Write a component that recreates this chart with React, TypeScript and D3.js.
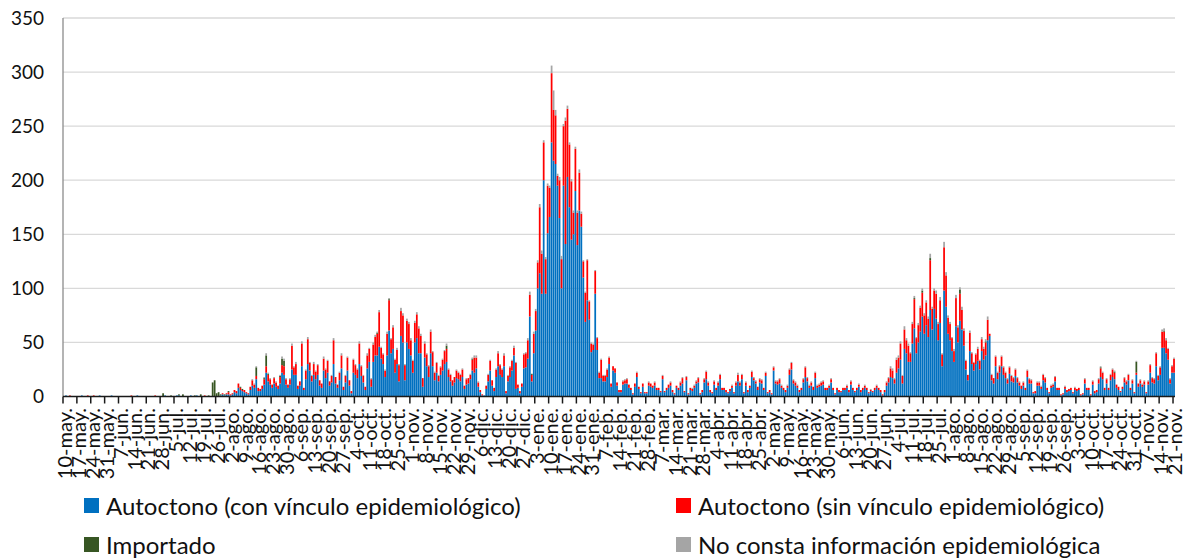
import React, { useRef, useEffect } from 'react';
import * as d3 from 'd3';

// weekly tick labels (first day of each week)
const xLabels = [
  '10-may.', '17-may.', '24-may.', '31-may.', '7-jun.', '14-jun.', '21-jun.', '28-jun.',
  '5-jul.', '12-jul.', '19-jul.', '26-jul.', '2-ago.', '9-ago.', '16-ago.', '23-ago.', '30-ago.',
  '6-sep.', '13-sep.', '20-sep.', '27-sep.', '4-oct.', '11-oct.', '18-oct.', '25-oct.',
  '1-nov.', '8-nov.', '15-nov.', '22-nov.', '29-nov.', '6-dic.', '13-dic.', '20-dic.', '27-dic.',
  '3-ene.', '10-ene.', '17-ene.', '24-ene.', '31-ene.', '7-feb.', '14-feb.', '21-feb.', '28-feb.',
  '7-mar.', '14-mar.', '21-mar.', '28-mar.', '4-abr.', '11-abr.', '18-abr.', '25-abr.',
  '2-may.', '9-may.', '16-may.', '23-may.', '30-may.', '6-jun.', '13-jun.', '20-jun.', '27-jun.',
  '4-jul.', '11-jul.', '18-jul.', '25-jul.', '1-ago.', '8-ago.', '15-ago.', '22-ago.', '29-ago.',
  '5-sep.', '12-sep.', '19-sep.', '26-sep.', '3-oct.', '10-oct.', '17-oct.', '24-oct.', '31-oct.',
  '7-nov.', '14-nov.', '21-nov.'
];

const yTicks = [0, 50, 100, 150, 200, 250, 300, 350];

// daily cases, one row per week (Sun..Sat)
const autoctonoCon = [
  0,1,0,0,0,0,0, 0,0,1,0,0,0,0, 0,0,0,0,1,0,0, 0,0,0,1,0,0,0,
  0,0,0,0,0,0,0, 0,0,1,0,0,0,0, 0,0,0,0,0,0,0, 0,0,1,0,0,0,0,
  0,1,1,0,0,0,0, 0,1,0,0,1,0,0, 0,0,0,0,0,0,0, 0,0,1,2,1,2,2,
  1,2,4,3,8,6,5, 4,3,2,6,10,8,16, 5,5,7,11,22,14,11, 8,12,9,7,12,22,20,
  11,8,11,25,20,20,7, 10,28,6,16,30,24,14, 20,16,20,10,8,24,17, 22,10,13,30,12,8,15,
  26,6,13,24,10,3,22, 20,17,30,19,13,6,26, 32,9,32,38,38,46,35, 30,18,38,61,40,44,22,
  30,14,56,50,15,50,44, 38,22,50,54,40,40,9, 36,28,18,40,28,15,22, 14,20,24,30,32,18,14,
  10,13,17,16,14,18,7, 11,12,16,24,22,26,9, 4,1,1,7,14,24,10, 5,18,28,20,18,28,3,
  14,18,24,38,7,8,3, 9,26,27,35,74,14,40,
  61,100,114,95,200,95,151,
  166,235,218,215,195,165,100,
  195,141,203,175,145,150,190,
  140,172,157,110,69,89,71,
  41,43,95,43,17,17,14, 14,18,30,9,24,22,10, 4,4,11,12,12,8,6, 2,9,18,7,3,9,3,
  3,10,9,8,10,6,6, 4,16,4,6,8,10,4, 2,8,6,10,12,4,15, 2,6,5,8,12,13,2,
  4,13,16,10,4,3,11, 6,10,16,6,6,4,3, 5,8,3,10,14,10,16, 3,10,4,8,18,15,12,
  6,13,12,6,19,3,4, 2,24,12,11,12,8,6, 4,8,20,25,12,10,8, 4,6,13,18,14,8,10,
  6,17,8,9,10,11,6, 6,8,13,6,2,6,4, 4,6,6,8,4,11,6, 4,6,9,4,6,8,6,
  3,5,4,6,8,6,4, 1,4,10,13,18,17,12, 22,26,34,12,44,40,32, 32,49,63,40,50,60,74,
  58,66,55,80,62,81,72, 52,68,28,98,83,58,52, 42,32,65,50,70,62,47, 25,15,42,30,24,30,33,
  25,42,34,38,52,56,15, 12,28,16,22,28,20,17, 12,21,14,13,19,13,10, 7,10,6,18,12,12,3,
  3,10,10,7,15,13,6, 3,8,9,14,6,6,1, 2,7,4,5,6,3,6, 5,6,1,2,12,6,6,
  1,11,3,4,12,18,16, 6,12,6,15,18,16,8, 6,4,7,13,11,15,6, 12,3,20,9,12,9,11,
  3,11,22,13,12,28,15, 20,45,45,40,34,12,22, 22
];

const autoctonoSin = [
  0,0,0,1,0,0,0, 0,0,0,0,0,1,0, 0,1,0,0,0,0,0, 0,0,0,0,0,0,0,
  0,0,0,0,0,0,1, 0,0,0,0,0,0,0, 0,0,0,0,1,0,0, 0,0,0,0,0,0,0,
  0,0,0,0,0,0,0, 0,0,0,0,0,0,0, 0,1,0,0,0,0,0, 0,0,0,1,0,1,2,
  1,1,2,2,4,2,1, 2,1,1,3,5,3,3, 3,2,3,5,6,6,5, 3,5,4,3,6,7,8,
  5,3,5,22,7,10,3, 4,21,2,8,23,7,5, 10,7,9,5,4,11,8, 11,4,6,22,6,3,7,
  12,3,6,12,5,2,12, 9,8,19,9,6,3,12, 12,7,16,17,20,32,10, 9,6,20,28,13,20,12,
  13,15,23,25,14,20,23, 14,11,18,22,23,16,8, 13,11,10,20,13,7,9, 5,7,10,12,12,7,6,
  5,5,7,6,6,7,3, 5,5,4,10,14,10,4, 2,1,0,3,6,9,5, 3,7,12,9,7,10,2,
  5,9,9,7,24,3,2, 3,13,13,17,20,6,18,
  18,24,61,37,35,32,44,
  27,64,47,45,9,35,27,
  55,114,63,58,54,20,39,
  30,35,12,15,27,37,17,
  8,5,21,11,5,17,5, 5,7,6,3,4,4,3, 2,2,3,3,4,3,2, 1,3,4,2,1,3,1,
  1,3,3,2,3,2,2, 1,3,1,2,3,3,2, 1,2,2,3,5,1,3, 1,2,2,2,2,4,1,
  2,3,7,3,2,1,3, 2,3,4,2,2,2,1, 2,2,1,3,6,3,4, 1,3,2,2,5,2,2,
  3,3,3,2,3,1,2, 1,3,2,3,4,2,2, 2,2,5,6,3,3,2, 2,2,3,9,3,2,3,
  3,5,2,2,3,3,2, 2,2,3,2,1,2,2, 1,2,2,2,2,3,2, 1,2,2,2,2,2,2,
  1,1,1,2,2,2,2, 1,2,3,4,8,7,4, 12,10,15,7,18,12,15, 8,18,27,14,16,22,22,
  17,21,17,46,19,17,23, 15,21,11,40,29,15,15, 12,10,26,14,25,18,14, 8,5,17,10,7,9,11,
  8,11,10,12,19,2,5, 5,9,6,6,9,7,5, 4,6,5,4,6,4,3, 3,3,2,6,4,3,1,
  2,3,3,2,5,4,2, 1,2,2,4,2,2,1, 1,2,2,2,2,1,2, 2,2,1,1,4,2,2,
  1,3,2,2,4,8,6, 2,4,2,5,7,6,3, 3,1,2,4,3,5,2, 3,1,2,3,3,2,3,
  1,3,7,4,4,12,4, 7,15,15,12,10,4,6, 13
];

const importado = [
  0,0,0,0,0,0,0, 0,0,0,0,0,0,0, 0,0,0,0,0,0,0, 0,0,0,0,0,0,0,
  0,0,0,0,0,0,0, 0,0,0,0,0,0,0, 0,0,0,0,0,0,0, 0,3,0,0,0,1,0,
  0,0,1,0,2,0,0, 0,0,0,1,0,0,2, 0,0,0,1,0,13,15, 3,4,1,0,1,0,1,
  0,0,0,0,0,1,1, 0,0,0,0,0,0,8, 0,0,0,1,10,1,0, 0,0,0,0,1,6,5,
  0,0,0,0,0,0,0, 0,0,0,0,0,0,0, 0,0,0,0,0,0,0, 0,0,0,0,0,0,0,
  0,0,0,0,0,0,0, 0,0,0,0,0,0,0, 0,0,0,0,1,0,0, 0,0,0,1,0,0,0,
  0,0,0,0,0,0,0, 0,0,0,0,0,0,0, 0,0,0,0,0,0,0, 0,0,0,0,3,0,0,
  0,0,0,0,0,0,0, 0,0,0,1,0,0,0, 0,0,0,0,0,0,0, 0,0,0,0,0,0,0,
  0,0,0,0,0,0,0, 0,0,0,0,0,1,0,
  0,0,0,0,0,0,0,
  0,0,0,0,0,0,0,
  0,0,0,0,0,0,0,
  0,0,0,0,0,0,0,
  0,0,0,0,0,0,0, 0,0,0,0,0,0,0, 0,0,0,0,0,0,0, 0,0,0,0,0,0,0,
  0,0,0,0,0,0,0, 0,0,0,0,0,0,0, 0,0,0,0,0,0,0, 0,0,0,0,0,0,0,
  0,0,0,0,0,0,0, 0,0,0,0,0,0,0, 0,0,0,0,0,0,0, 0,0,0,0,0,0,0,
  0,0,0,0,0,0,0, 0,0,0,0,0,0,0, 0,0,0,0,0,0,0, 0,0,0,0,0,0,0,
  0,0,0,0,0,0,0, 0,0,0,0,0,0,0, 0,0,0,0,0,0,0, 0,0,0,0,0,0,0,
  0,0,0,0,0,0,0, 0,0,0,0,0,0,0, 0,0,0,0,0,0,0, 0,0,1,0,0,0,2,
  0,0,0,2,0,0,0, 0,0,0,0,0,0,0, 0,0,0,0,4,0,0, 0,0,0,0,0,0,0,
  0,0,0,1,0,0,0, 0,0,0,0,0,0,0, 0,0,0,0,0,0,0, 0,0,0,0,0,0,0,
  0,0,0,0,0,0,0, 0,0,0,0,0,0,0, 0,0,0,0,0,0,0, 0,0,0,0,0,0,0,
  0,0,0,0,0,1,0, 0,0,0,0,0,1,0, 0,0,0,0,0,0,0, 0,0,10,0,0,0,0,
  0,0,0,0,0,0,0, 0,0,1,0,0,0,0, 0
];

const noConsta = [
  0,0,0,0,0,0,0, 0,0,0,0,0,0,0, 0,0,0,0,0,0,0, 0,0,0,0,0,0,0,
  0,0,0,0,0,0,0, 0,0,0,0,0,0,0, 0,0,0,0,0,0,0, 0,0,0,0,0,0,0,
  0,0,0,0,0,0,0, 0,0,0,0,0,0,0, 0,0,0,0,0,0,0, 0,0,0,0,0,0,0,
  0,0,0,0,0,0,0, 0,0,0,0,1,1,1, 0,0,0,1,2,1,1, 0,1,1,0,1,2,2,
  1,0,1,2,1,2,0, 0,2,0,1,2,1,1, 2,1,1,0,0,2,1, 1,0,1,2,0,0,1,
  2,0,1,1,0,0,1, 1,1,2,1,1,0,2, 1,1,2,2,1,2,1, 1,1,2,1,1,2,1,
  2,1,3,2,1,2,2, 2,1,2,2,2,2,0, 2,1,1,2,1,1,1, 1,1,1,1,2,1,1,
  0,0,1,1,1,1,0, 1,0,1,1,2,2,1, 0,0,0,0,1,1,0, 0,1,2,1,1,2,0,
  1,1,1,2,1,0,0, 0,1,1,2,3,0,2,
  2,2,3,3,2,2,2,
  2,7,18,5,2,3,3,
  2,3,3,2,2,2,2,
  2,3,2,1,1,1,1,
  1,1,1,1,1,1,1, 1,1,1,0,0,0,0, 0,0,1,1,1,0,0, 0,0,1,0,0,0,0,
  0,1,0,0,1,0,0, 0,1,0,0,0,1,0, 0,0,0,1,1,0,1, 0,0,1,1,1,1,0,
  0,1,1,1,0,0,1, 0,1,1,0,0,0,0, 0,1,0,1,2,1,1, 0,1,0,0,1,1,1,
  0,1,1,0,1,0,0, 0,1,1,1,1,1,0, 0,1,1,1,1,1,1, 0,0,1,1,1,1,1,
  0,1,1,1,1,1,0, 0,1,1,0,0,0,0, 0,0,0,1,0,1,0, 0,0,1,0,0,1,0,
  0,1,0,0,1,0,0, 0,0,1,1,2,2,1, 2,2,2,1,3,2,2, 1,2,2,1,2,2,2,
  2,2,2,4,2,2,3, 2,3,1,5,3,2,2, 1,2,3,2,2,3,2, 1,0,2,1,1,1,2,
  1,2,2,2,3,0,1, 0,1,1,1,1,1,1, 1,1,1,1,1,1,1, 0,1,0,1,1,1,0,
  0,1,1,1,1,1,0, 0,1,1,1,0,0,0, 0,1,0,0,0,0,1, 0,0,0,0,1,0,0,
  0,1,0,0,1,1,1, 0,1,0,1,1,1,0, 0,0,0,1,1,1,0, 1,0,1,0,1,1,1,
  0,1,1,1,1,1,1, 1,2,2,2,1,1,1, 1
];

const seriesKeys = ['con', 'sin', 'imp', 'nc'];
const seriesLabels = [
  'Autoctono (con vínculo epidemiológico)',
  'Autoctono (sin vínculo epidemiológico)',
  'Importado',
  'No consta información epidemiológica'
];
const seriesColors = ['#0070C0', '#FF0000', '#375623', '#A5A5A5'];

const WIDTH = 1185;
const HEIGHT = 559;
const FONT = 'Lato, "Open Sans", sans-serif';

const App: React.FC = () => {
  const svgRef = useRef<SVGSVGElement>(null);

  useEffect(() => {
    const svg = d3.select(svgRef.current);
    svg.selectAll('*').remove();

    const plot = { left: 63, right: 1175, top: 18, bottom: 396.5 };
    const nDays = autoctonoCon.length;

    const rows = d3.range(nDays).map(i => ({
      day: i,
      con: autoctonoCon[i] || 0,
      sin: autoctonoSin[i] || 0,
      imp: importado[i] || 0,
      nc: noConsta[i] || 0
    }));

    const xScale = d3.scaleBand<number>()
      .domain(d3.range(nDays))
      .range([plot.left, plot.right])
      .paddingInner(0.12)
      .paddingOuter(0.06);

    const yScale = d3.scaleLinear()
      .domain([0, 350])
      .range([plot.bottom, plot.top]);

    // gridlines
    svg.append('g')
      .selectAll('line')
      .data(yTicks.filter(t => t > 0))
      .enter()
      .append('line')
      .attr('x1', plot.left)
      .attr('x2', plot.right)
      .attr('y1', d => yScale(d))
      .attr('y2', d => yScale(d))
      .attr('stroke', '#d9d9d9')
      .attr('stroke-width', 1.3);

    // y labels
    svg.append('g')
      .selectAll('text')
      .data(yTicks)
      .enter()
      .append('text')
      .attr('x', 44)
      .attr('y', d => yScale(d))
      .attr('dy', '0.36em')
      .attr('text-anchor', 'end')
      .style('font-family', FONT)
      .style('font-size', '19px')
      .style('fill', '#111')
      .text(d => d);

    // stacked bars
    const stack = d3.stack<any>().keys(seriesKeys);
    const layers = stack(rows);

    svg.append('g')
      .selectAll('g')
      .data(layers)
      .enter()
      .append('g')
      .attr('fill', (_d, i) => seriesColors[i])
      .selectAll('rect')
      .data(d => d)
      .enter()
      .append('rect')
      .attr('x', (_d, i) => xScale(i) as number)
      .attr('width', xScale.bandwidth())
      .attr('y', d => yScale(d[1]))
      .attr('height', d => Math.max(0, yScale(d[0]) - yScale(d[1])));

    // y axis line
    svg.append('line')
      .attr('x1', plot.left)
      .attr('x2', plot.left)
      .attr('y1', plot.top)
      .attr('y2', plot.bottom)
      .attr('stroke', '#8c8c8c')
      .attr('stroke-width', 1.3);

    // x axis line and weekly ticks
    svg.append('line')
      .attr('x1', plot.left)
      .attr('x2', plot.right)
      .attr('y1', plot.bottom)
      .attr('y2', plot.bottom)
      .attr('stroke', '#1a1a1a')
      .attr('stroke-width', 1.6);

    const step = xScale.step();
    const x0 = plot.left;

    svg.append('g')
      .selectAll('line')
      .data(xLabels)
      .enter()
      .append('line')
      .attr('x1', (_d, i) => x0 + i * 7 * step)
      .attr('x2', (_d, i) => x0 + i * 7 * step)
      .attr('y1', plot.bottom)
      .attr('y2', plot.bottom + 7)
      .attr('stroke', '#1a1a1a')
      .attr('stroke-width', 1.5);

    svg.append('g')
      .selectAll('text')
      .data(xLabels)
      .enter()
      .append('text')
      .attr('transform', (_d, i) => `translate(${(xScale(i * 7) as number) + xScale.bandwidth() / 2 + 1},408) rotate(-90)`)
      .attr('dy', '0.36em')
      .attr('text-anchor', 'end')
      .style('font-family', FONT)
      .style('font-size', '20px')
      .style('fill', '#111')
      .text(d => d);

    // legend
    const legendPos = [
      { x: 84, y: 498 },
      { x: 676, y: 498 },
      { x: 84, y: 537 },
      { x: 676, y: 537 }
    ];

    const legend = svg.append('g')
      .selectAll('g')
      .data(seriesLabels)
      .enter()
      .append('g')
      .attr('transform', (_d, i) => `translate(${legendPos[i].x},${legendPos[i].y})`);

    legend.append('rect')
      .attr('width', 15)
      .attr('height', 15)
      .attr('fill', (_d, i) => seriesColors[i]);

    legend.append('text')
      .attr('x', 22)
      .attr('y', 17)
      .style('font-family', FONT)
      .style('font-size', '24px')
      .style('fill', '#111')
      .text(d => d);
  }, []);

  return (
    <div style={{ position: 'absolute', left: 0, top: 0 }}>
      <svg ref={svgRef} width={WIDTH} height={HEIGHT} style={{ display: 'block', background: '#fff' }} />
    </div>
  );
};

export default App;
